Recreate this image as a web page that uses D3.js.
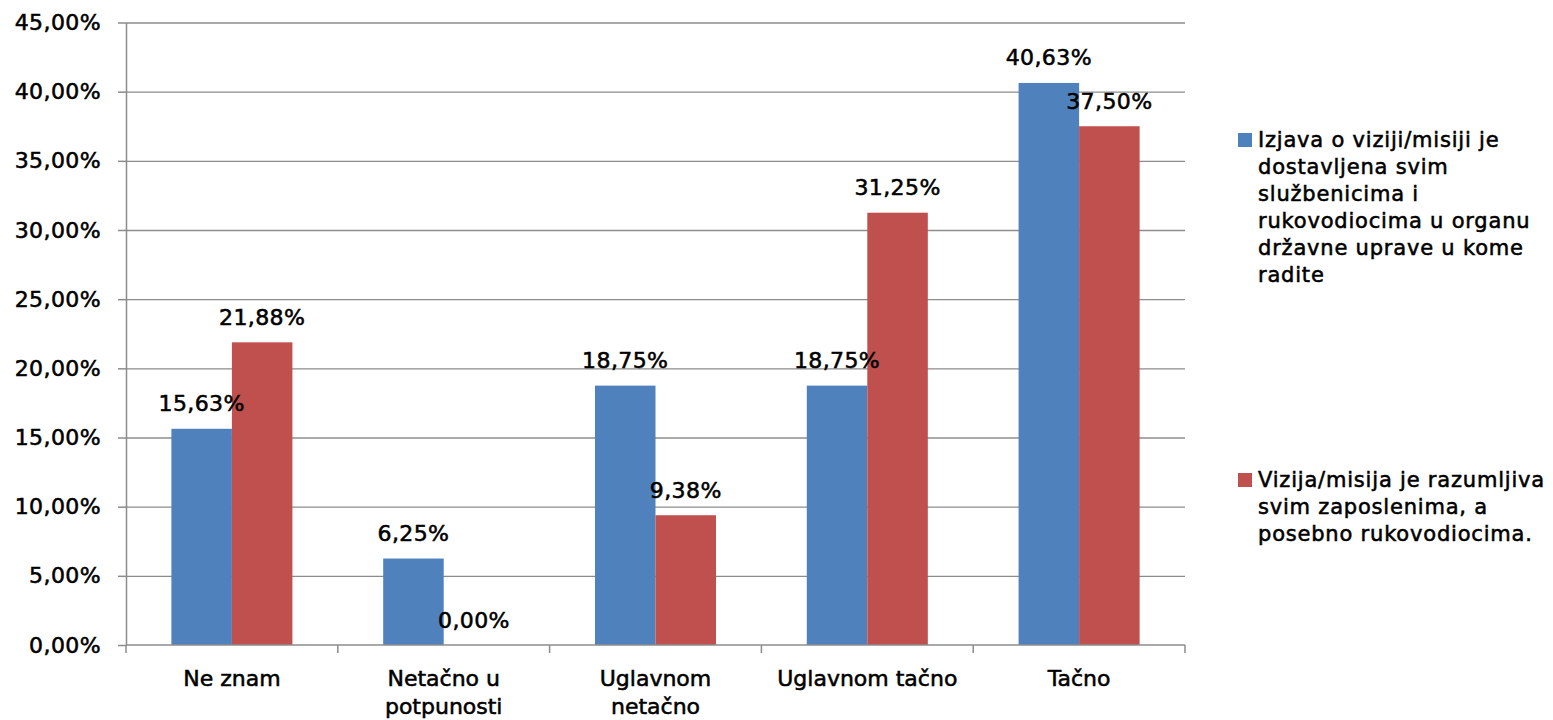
<!DOCTYPE html>
<html>
<head>
<meta charset="utf-8">
<script src="https://cdn.jsdelivr.net/npm/d3@7"></script>
<style>
  body { margin: 0; background: #fff; }
  text { font-family: "DejaVu Sans", sans-serif; fill: #000; stroke: #000; stroke-width: 0.55px; }
</style>
</head>
<body>
<div class="canvas"></div>
<script>
// data
const categories = ['Ne znam', 'Netačno u\npotpunosti', 'Uglavnom\nnetačno', 'Uglavnom tačno', 'Tačno'];
const seriesKeys = ['dostavljena', 'razumljiva'];
const dostavljena = [15.63, 6.25, 18.75, 18.75, 40.63];
const razumljiva = [21.88, 0.00, 9.38, 31.25, 37.50];
const legendLines = [
  ['Izjava o viziji/misiji je', 'dostavljena svim', 'službenicima i', 'rukovodiocima u organu', 'državne uprave u kome', 'radite'],
  ['Vizija/misija je razumljiva', 'svim zaposlenima, a', 'posebno rukovodiocima.']
];
const yTicks = [0, 5, 10, 15, 20, 25, 30, 35, 40, 45];
const colors = ['#4F81BD', '#C0504D'];

const margin = { top: 22.5, right: 368, bottom: 75, left: 126 };
const width = 1553, height = 720;
const graphWidth = width - margin.left - margin.right;
const graphHeight = height - margin.top - margin.bottom;

const fmt = v => v.toFixed(2).replace('.', ',') + '%';

const svg = d3.select('.canvas')
  .append('svg')
   .attr('width', width)
   .attr('height', height);

const graph = svg.append('g')
  .attr('transform', `translate(${margin.left}, ${margin.top})`);

const y = d3.scaleLinear()
  .domain([0, 45])
  .range([graphHeight, 0]);

const x0 = d3.scaleBand()
  .domain(categories)
  .range([0, graphWidth]);

// excel gap width 150% -> bars take 2 of 3.5 bar widths
const bw = x0.bandwidth() / 3.5;
const x1 = d3.scaleBand()
  .domain(seriesKeys)
  .range([0.75 * bw, 2.75 * bw]);

//gridlines
graph.append('g')
  .call(d3.axisLeft(y).tickValues(yTicks.slice(1)).tickSize(-graphWidth).tickFormat(''))
  .call(g => g.select('.domain').remove())
  .selectAll('line')
   .attr('stroke', '#8c8c8c')
   .attr('stroke-width', 1.3);

//y axis with labels
const yAxisGroup = graph.append('g')
  .call(d3.axisLeft(y).tickValues(yTicks).tickSize(8).tickSizeOuter(0).tickPadding(17).tickFormat(d => fmt(d)));
yAxisGroup.selectAll('line, path').attr('stroke', '#8c8c8c').attr('stroke-width', 1.5);
yAxisGroup.selectAll('text')
  .attr('fill', '#000')
  .style('font-size', '22px')
  .style('letter-spacing', '0.4px');

//bars
const rows = categories.map((c, i) => ({ cat: c, dostavljena: dostavljena[i], razumljiva: razumljiva[i] }));

const groups = graph.selectAll('g.cat')
  .data(rows)
  .enter()
  .append('g')
   .attr('class', 'cat')
   .attr('transform', d => `translate(${x0(d.cat)}, 0)`);

groups.selectAll('rect')
  .data(d => seriesKeys.map((k, j) => ({ key: k, value: d[k], j })))
  .enter()
  .append('rect')
   .attr('x', d => x1(d.key))
   .attr('width', x1.bandwidth())
   .attr('y', d => y(d.value))
   .attr('height', d => graphHeight - y(d.value))
   .attr('fill', d => colors[d.j]);

groups.selectAll('text.val')
  .data(d => seriesKeys.map((k, j) => ({ key: k, value: d[k], j })))
  .enter()
  .append('text')
   .attr('class', 'val')
   .attr('x', d => x1(d.key) + x1.bandwidth() / 2)
   .attr('y', d => y(d.value) - 17.5)
   .attr('text-anchor', 'middle')
   .style('font-size', '22px')
   .style('letter-spacing', '0.4px')
   .text(d => fmt(d.value));

//x axis
const xAxisGroup = graph.append('g')
  .attr('transform', `translate(0, ${graphHeight})`);
xAxisGroup.append('line')
  .attr('x1', 0).attr('x2', graphWidth)
  .attr('stroke', '#8c8c8c').attr('stroke-width', 1.5);
const bounds = categories.map(c => x0(c)).concat([x0.range()[1]]);
xAxisGroup.selectAll('line.tick')
  .data(bounds)
  .enter()
  .append('line')
   .attr('class', 'tick')
   .attr('x1', d => d).attr('x2', d => d)
   .attr('y1', 0).attr('y2', 8)
   .attr('stroke', '#8c8c8c').attr('stroke-width', 1.5);

const xLabels = xAxisGroup.selectAll('text.cat')
  .data(categories)
  .enter()
  .append('text')
   .attr('class', 'cat')
   .attr('text-anchor', 'middle')
   .attr('transform', d => `translate(${x0(d) + x0.bandwidth() / 2}, 41)`)
   .style('font-size', '22px');
xLabels.selectAll('tspan')
  .data(d => d.split('\n'))
  .enter()
  .append('tspan')
   .attr('x', 0)
   .attr('y', (d, i) => i * 28)
   .text(d => d);

//legend
const legendTop = [147, 487];
const legend = svg.selectAll('g.legend')
  .data(legendLines)
  .enter()
  .append('g')
   .attr('class', 'legend')
   .attr('transform', (d, i) => `translate(1238, ${legendTop[i]})`);

legend.append('rect')
  .attr('x', 0).attr('y', -14)
  .attr('width', 14).attr('height', 14)
  .attr('fill', (d, i) => colors[i]);

legend.append('text')
  .style('font-size', '21px')
  .style('letter-spacing', '0.8px')
  .selectAll('tspan')
  .data(d => d)
  .enter()
  .append('tspan')
   .attr('x', 20)
   .attr('y', (d, i) => i * 27)
   .text(d => d);
</script>
</body>
</html>
